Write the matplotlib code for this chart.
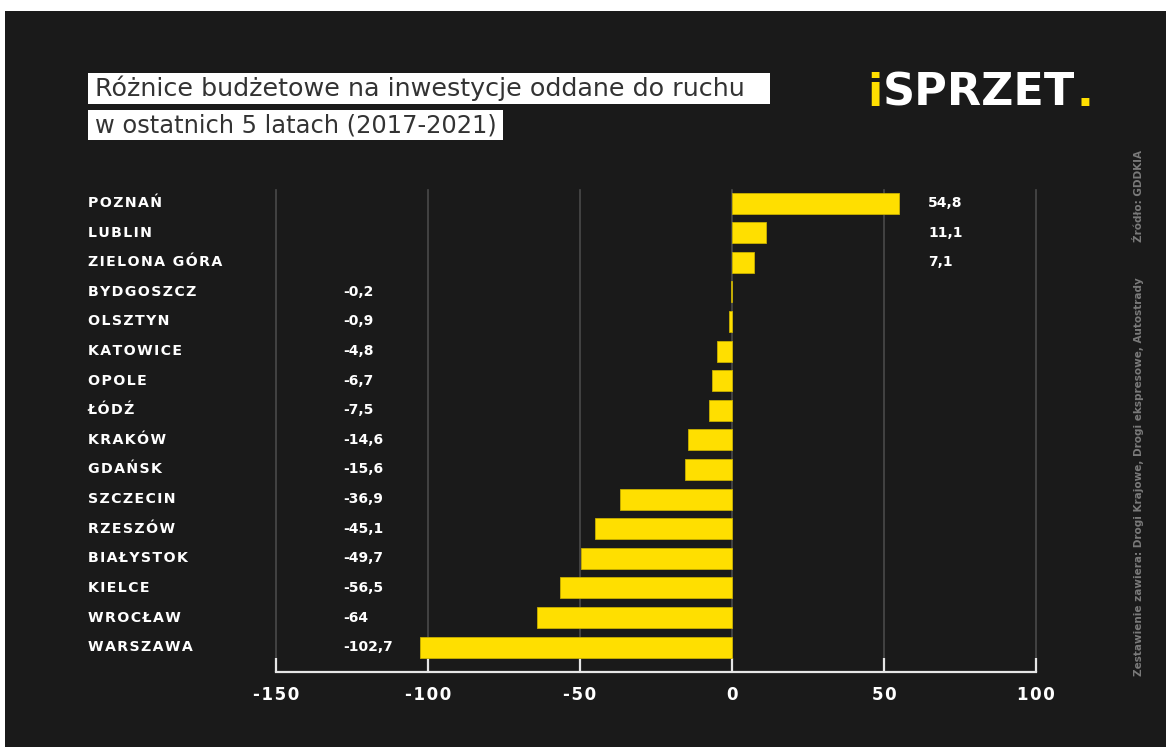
import matplotlib.pyplot as plt
from matplotlib.patches import Rectangle
import matplotlib.transforms as mtransforms

cities = ["POZNAŃ", "LUBLIN", "ZIELONA GÓRA", "BYDGOSZCZ", "OLSZTYN", "KATOWICE",
          "OPOLE", "ŁÓDŹ", "KRAKÓW", "GDAŃSK", "SZCZECIN", "RZESZÓW",
          "BIAŁYSTOK", "KIELCE", "WROCŁAW", "WARSZAWA"]
values = [54.8, 11.1, 7.1, -0.2, -0.9, -4.8, -6.7, -7.5, -14.6, -15.6,
          -36.9, -45.1, -49.7, -56.5, -64, -102.7]
ticks = [-150, -100, -50, 0, 50, 100]

BG = "#1a1a1a"
YELLOW = "#ffdf00"


def spaced(s, sep="\u200a"):
    # poor man's letter spacing
    return sep.join(s)


def fmt(v):
    return f"{v:g}".replace(".", ",")


fig = plt.figure(figsize=(11.66, 7.47), dpi=100)
fig.patch.set_facecolor("white")
W, H = 1166, 747

# dark panel (small white margin top / left as in the original)
fig.patches.append(Rectangle((5 / W, 0), 1, 1 - 11 / H, transform=fig.transFigure,
                             facecolor=BG, edgecolor="none", zorder=-10))

ax = fig.add_axes([276 / W, 75 / H, 760 / W, 482 / H])
ax.set_facecolor("none")
ypos = list(range(len(cities)))
ax.set_xlim(-150, 100)
ax.set_ylim(15.84, -0.44)

for t in ticks:
    ax.plot([t, t], [15.45, -0.44], color="#4a4a4a", lw=1.2, zorder=1, clip_on=False)

ax.barh(ypos, values, height=0.71, color=YELLOW, edgecolor="#c8b000", linewidth=0.6, zorder=2)

for s in ["top", "left", "right"]:
    ax.spines[s].set_visible(False)
ax.spines["bottom"].set_color("#e6e6e6")
ax.spines["bottom"].set_linewidth(1.6)
ax.set_xticks(ticks)
ax.set_xticklabels([spaced(str(t)) for t in ticks], color="white", fontsize=12,
                   fontweight="bold", family="DejaVu Sans")
ax.tick_params(axis="x", direction="in", length=10, width=1.6, color="#e6e6e6", pad=10)
ax.set_yticks([])

# category labels and values
lab_tr = mtransforms.blended_transform_factory(fig.transFigure, ax.transData)
for y, c, v in zip(ypos, cities, values):
    ax.text(88 / W, y, spaced(c), transform=lab_tr, ha="left", va="center",
            color="white", fontsize=10.2, fontweight="bold", family="DejaVu Sans",
            clip_on=False)
    ax.text(343 / W if v < 0 else 928 / W, y, fmt(v), transform=lab_tr,
            ha="left", va="center", color="white", fontsize=10, fontweight="bold",
            family="DejaVu Sans", clip_on=False)

fig.canvas.draw()
r = fig.canvas.get_renderer()


def fit_text(x, y, s, width_px, size0, **kw):
    t = fig.text(x / W, 1 - y / H, s, fontsize=size0, **kw)
    w = t.get_window_extent(r).width
    t.set_fontsize(size0 * width_px / w)
    return t


# title boxes
fig.patches.append(Rectangle((88 / W, 1 - 104 / H), 682 / W, 31 / H,
                             transform=fig.transFigure, facecolor="white", edgecolor="none"))
fig.patches.append(Rectangle((88 / W, 1 - 140 / H), 415 / W, 30 / H,
                             transform=fig.transFigure, facecolor="white", edgecolor="none"))
fit_text(95, 96, "Różnice budżetowe na inwestycje oddane do ruchu", 652, 15,
         ha="left", va="baseline", color="#333333", family="DejaVu Sans")
fit_text(95, 132, "w ostatnich 5 latach (2017-2021)", 402, 15,
         ha="left", va="baseline", color="#333333", family="DejaVu Sans")

# logo
x = 867
parts = [("i", YELLOW), ("SPRZET", "white"), (".", YELLOW)]
for part, col in parts:
    t = fig.text(x / W, 1 - 106 / H, part, ha="left", va="baseline", color=col,
                 fontsize=32, fontweight="bold", family="DejaVu Sans")
    bb = t.get_window_extent(r)
    x = bb.x1 + 1

# side note
fig.text(1139 / W, 1 - 676 / H, "Zestawienie zawiera: Drogi Krajowe, Drogi ekspresowe, Autostrady",
         rotation=90, rotation_mode="anchor", ha="left", va="center",
         color="#7a7a7a", fontsize=7.5, fontweight="bold", family="DejaVu Sans")
fig.text(1139 / W, 1 - 150 / H, "Źródło: GDDKIA",
         rotation=90, rotation_mode="anchor", ha="right", va="center",
         color="#7a7a7a", fontsize=7.5, fontweight="bold", family="DejaVu Sans")

fig.savefig("out.png", dpi=100, facecolor=fig.get_facecolor())
